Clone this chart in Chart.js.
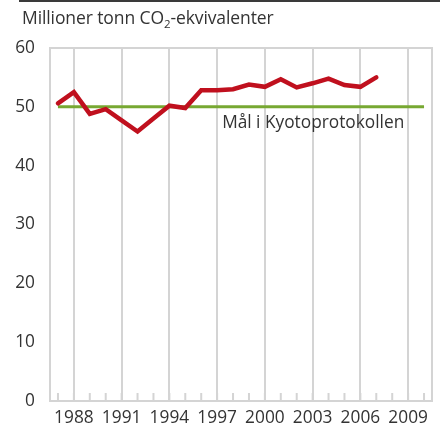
<!DOCTYPE html>
<html>
<head>
<meta charset="utf-8">
<script src="https://cdn.jsdelivr.net/npm/chart.js@4"></script>
<style>
  html, body { margin: 0; padding: 0; background: #fff; }
  #wrap { position: relative; width: 440px; height: 429px; }
  #topline { position: absolute; left: 19px; top: 0; width: 421px; height: 2px; background: #3a3a3a; }
  #title { position: absolute; left: 22px; top: 5px; font-family: "Open Sans", sans-serif; font-size: 17.5px; color: #333; white-space: nowrap; letter-spacing: -0.1px; }
  #title sub { font-size: 11.5px; vertical-align: -4px; line-height: 0; }
  canvas { position: absolute; left: 0; top: 0; }
</style>
</head>
<body>
<div id="wrap">
  <canvas id="c" width="440" height="429"></canvas>
  <div id="topline"></div>
  <div id="title">Millioner tonn CO<sub>2</sub>-ekvivalenter</div>
</div>
<script>
const years = ['1987','1988','1989','1990','1991','1992','1993','1994','1995','1996','1997','1998','1999','2000','2001','2002','2003','2004','2005','2006','2007','2008','2009','2010'];
const emissions = [50.6, 52.5, 48.8, 49.6, 47.7, 45.8, 48.0, 50.2, 49.8, 52.8, 52.8, 53.0, 53.8, 53.4, 54.7, 53.3, 54.0, 54.8, 53.7, 53.4, 55.0, null, null, null];
const kyotoTarget = [50,50,50,50,50,50,50,50,50,50,50,50,50,50,50,50,50,50,50,50,50,50,50,50];
const yTicks = [0, 10, 20, 30, 40, 50, 60];
const targetLabel = 'Mål i Kyotoprotokollen';

const gridGray = '#d4d4d4';
const textColor = '#333333';
const fontFamily = '"Open Sans", sans-serif';
const fontSize = 17.3;

const framePlugin = {
  id: 'frame',
  beforeDatasetsDraw(chart) {
    const { ctx, chartArea: a, scales: { x } } = chart;
    ctx.save();
    ctx.strokeStyle = gridGray;
    ctx.lineWidth = 2;
    years.forEach((y, i) => {
      const px = x.getPixelForValue(i);
      ctx.beginPath();
      ctx.moveTo(px, a.bottom);
      ctx.lineTo(px, a.bottom - 8);
      ctx.stroke();
    });
    ctx.strokeRect(a.left, a.top, a.right - a.left, a.bottom - a.top);
    ctx.restore();
  },
  afterDatasetsDraw(chart) {
    const { ctx, scales: { x, y } } = chart;
    ctx.save();
    ctx.font = fontSize + 'px ' + fontFamily;
    ctx.fillStyle = textColor;
    ctx.textBaseline = 'middle';
    ctx.textAlign = 'left';
    ctx.fillText(targetLabel, x.getPixelForValue(10) + 5, y.getPixelForValue(50) + 16);
    ctx.restore();
  }
};

new Chart(document.getElementById('c'), {
  type: 'line',
  data: {
    labels: years,
    datasets: [
      { label: 'Kyoto', data: kyotoTarget, borderColor: '#77a832', borderWidth: 3, pointRadius: 0, tension: 0, order: 2 },
      { label: 'Utslipp', data: emissions, borderColor: '#c0101e', borderWidth: 4.5, pointRadius: 0, tension: 0, spanGaps: false, borderJoinStyle: 'miter', borderCapStyle: 'round', order: 1 }
    ]
  },
  options: {
    responsive: false,
    animation: false,
    layout: { padding: { top: 48, right: 8, left: 0, bottom: 0 } },
    plugins: { legend: { display: false }, tooltip: { enabled: false } },
    scales: {
      x: {
        type: 'category',
        offset: true,
        grid: {
          offset: false,
          drawTicks: false,
          lineWidth: 2,
          color: (c) => (c.index % 3 === 1 ? gridGray : 'rgba(0,0,0,0)')
        },
        border: { display: false },
        ticks: {
          autoSkip: false,
          maxRotation: 0,
          padding: 7,
          color: textColor,
          font: { family: fontFamily, size: fontSize },
          callback: function (v, i) { return i % 3 === 1 ? years[i] : ''; }
        },
        afterFit: (s) => { s.height = 28; }
      },
      y: {
        min: 0, max: 60,
        afterBuildTicks: (s) => { s.ticks = yTicks.map(v => ({ value: v })); },
        grid: { display: false },
        border: { display: false },
        ticks: { padding: 7, color: textColor, font: { family: fontFamily, size: fontSize } },
        afterFit: (s) => { s.width = 50; }
      }
    }
  },
  plugins: [framePlugin]
});
</script>
</body>
</html>
